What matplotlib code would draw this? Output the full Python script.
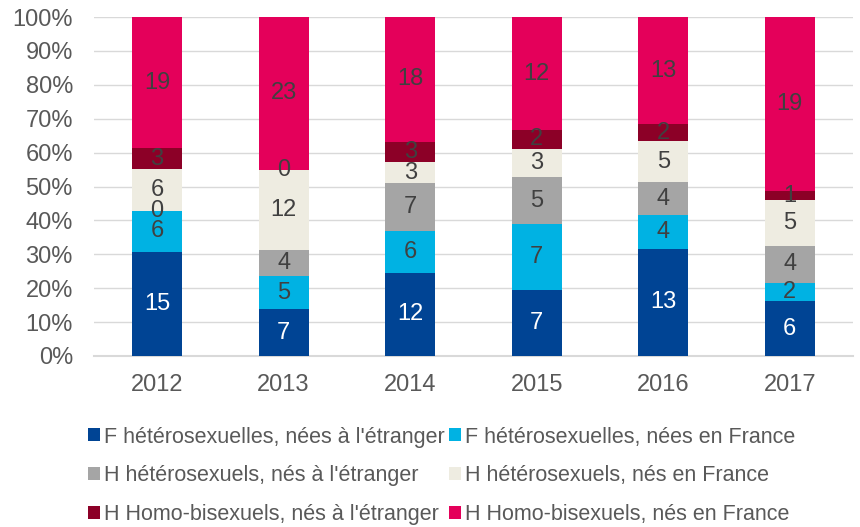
import matplotlib
matplotlib.use("Agg")
import matplotlib.pyplot as plt
import numpy as np
from matplotlib.patches import Patch

plt.rcParams['font.family'] = ['Liberation Sans', 'DejaVu Sans']

years = ["2012", "2013", "2014", "2015", "2016", "2017"]
series_names = [
    "F hétérosexuelles, nées à l'étranger",
    "F hétérosexuelles, nées en France",
    "H hétérosexuels, nés à l'étranger",
    "H hétérosexuels, nés en France",
    "H Homo-bisexuels, nés à l'étranger",
    "H Homo-bisexuels, nés en France",
]
f_etr = [15, 7, 12, 7, 13, 6]
f_fr = [6, 5, 6, 7, 4, 2]
h_etr = [0, 4, 7, 5, 4, 4]
h_fr = [6, 12, 3, 3, 5, 5]
hb_etr = [3, 0, 3, 2, 2, 1]
hb_fr = [19, 23, 18, 12, 13, 19]
values = [f_etr, f_fr, h_etr, h_fr, hb_etr, hb_fr]
colors = ["#004494", "#00B2E3", "#A5A5A5", "#EEECE1", "#8C0027", "#E4005A"]
label_colors = ["white", "#404040", "#404040", "#404040", "#404040", "#404040"]

data = np.array(values, dtype=float)
totals = data.sum(axis=0)
pct = data / totals * 100

fig = plt.figure(figsize=(8.6, 5.27), dpi=100)
ax = fig.add_axes([0.109, 0.3245, 0.883, 0.6432])

x = np.arange(len(years))
bottom = np.zeros(len(years))
for i in range(len(values)):
    ax.bar(x, pct[i], 0.395, bottom=bottom, color=colors[i], zorder=3)
    for j in range(len(years)):
        ax.text(x[j], bottom[j] + pct[i][j] / 2, str(values[i][j]),
                ha='center', va='center', fontsize=17, color=label_colors[i], zorder=4)
    bottom += pct[i]

ax.set_xlim(-0.5, len(years) - 0.5)
ax.set_ylim(0, 100)
ax.set_yticks(np.arange(0, 101, 10))
ax.set_yticklabels([f"{v}%" for v in range(0, 101, 10)])
ax.set_xticks(x)
ax.set_xticklabels(years)
ax.tick_params(axis='both', length=0, labelsize=17, colors='#595959')
ax.tick_params(axis='x', pad=13)
ax.tick_params(axis='y', pad=15)
ax.yaxis.grid(True, color='#D9D9D9', linewidth=1, zorder=0)
for s in ['top', 'right', 'left']:
    ax.spines[s].set_visible(False)
ax.spines['bottom'].set_color('#D9D9D9')
ax.spines['bottom'].set_linewidth(1.5)

order = [0, 2, 4, 1, 3, 5]
handles = [Patch(facecolor=colors[k], edgecolor='none') for k in order]
labels = [series_names[k] for k in order]
leg = fig.legend(handles, labels, ncol=2, loc='upper left', bbox_to_anchor=(0.092, 0.207),
                 frameon=False, handlelength=0.55, handleheight=0.55, handletextpad=0.2,
                 columnspacing=0.2, labelspacing=0.82, fontsize=15.5, borderaxespad=0)
for t in leg.get_texts():
    t.set_color('#595959')

fig.savefig("out.png", dpi=100)
